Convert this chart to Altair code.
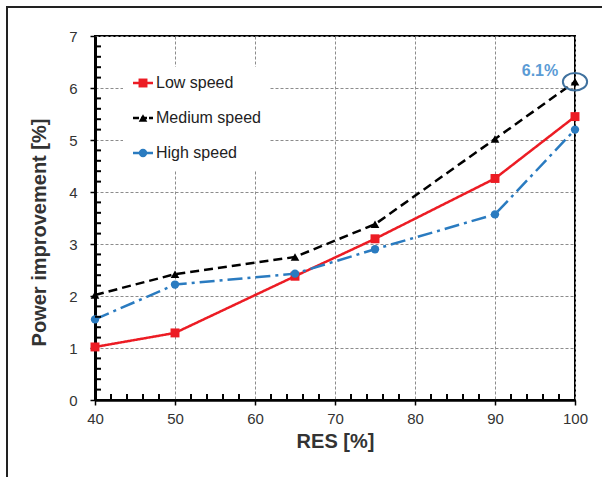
import altair as alt
import pandas as pd

# ---- data ----
res = [40, 50, 65, 75, 90, 100]
low = [1.02, 1.29, 2.38, 3.10, 4.26, 5.45]
medium = [2.02, 2.42, 2.75, 3.38, 5.02, 6.12]
high = [1.55, 2.22, 2.43, 2.90, 3.57, 5.20]
series_names = ["Low speed", "Medium speed", "High speed"]
series_vals = [low, medium, high]
series_colors = ["#ec1c24", "#000000", "#2a7bc0"]
series_shapes = ["square", "triangle-up", "circle"]
series_sizes = [80, 75, 70]
series_dash = [[1, 0], [9, 5], [15, 5, 3, 5]]

x_ticks = [40, 50, 60, 70, 80, 90, 100]
y_ticks = [0, 1, 2, 3, 4, 5, 6, 7]
minor_x = [v for v in range(42, 100, 2) if v % 10 != 0]
minor_y = [round(v * 0.2, 1) for v in range(1, 35) if v % 5 != 0]

annot_x = [100]
annot_y = [6.12]
annot_text = ["6.1%"]

W, H = 480, 364
FONT = "Liberation Sans"
TICK_PX = 6

x_axis = alt.Axis(
    values=x_ticks, title="RES [%]", grid=True, gridDash=[3, 2], gridColor="#8c8c8c",
    gridWidth=1, domainColor="black", domainWidth=2.5, tickColor="black", tickSize=5,
    tickWidth=1.5, labelFont=FONT, labelFontSize=15, labelColor="#333333", labelPadding=6,
    labelFlush=False,
    titleFont=FONT, titleFontSize=20, titleFontWeight="bold", titleColor="#333333",
    titleY=31, titleBaseline="top",
)
y_axis = alt.Axis(
    values=y_ticks, title="Power improvement [%]", grid=True, gridDash=[3, 2],
    gridColor="#8c8c8c", gridWidth=1, domainColor="black", domainWidth=3,
    tickColor="black", tickSize=5, tickWidth=1.5, labelFont=FONT, labelFontSize=15,
    labelColor="#333333", labelPadding=13, labelFlush=False, titleFont=FONT, titleFontSize=20,
    titleFontWeight="bold", titleColor="#333333", titleX=-46, titleY=196,
)
x_scale = alt.Scale(domain=[40, 100], nice=False, zero=False)
y_scale = alt.Scale(domain=[0, 7], nice=False)


def X(field):
    return alt.X(f"{field}:Q", scale=x_scale, axis=x_axis)


def Y(field):
    return alt.Y(f"{field}:Q", scale=y_scale, axis=y_axis)


layers = []

# outer frame of the figure
frame = alt.Chart(pd.DataFrame({"a": [0]})).mark_rect(
    fill="white", fillOpacity=0, stroke="#222222", strokeWidth=2, clip=False
).encode(x=alt.value(-88), x2=alt.value(700), y=alt.value(-29), y2=alt.value(600))
layers.append(frame)

# minor ticks (inward), tick length expressed in data units
mx_df = pd.DataFrame({"mx": minor_x, "y0": [0.0] * len(minor_x),
                      "y1": [TICK_PX * 7 / H] * len(minor_x)})
mx = alt.Chart(mx_df).mark_rule(color="black", strokeWidth=2).encode(
    x=X("mx"), y=Y("y0"), y2="y1:Q"
)
my_df = pd.DataFrame({"my": minor_y, "x0": [40.0] * len(minor_y),
                      "x1": [40 + TICK_PX * 60 / W] * len(minor_y)})
my = alt.Chart(my_df).mark_rule(color="black", strokeWidth=2).encode(
    y=Y("my"), x=X("x0"), x2="x1:Q"
)

# data series
for name, vals, col, shp, sz, dash in zip(series_names, series_vals, series_colors,
                                          series_shapes, series_sizes, series_dash):
    df = pd.DataFrame({"res": res, "val": vals})
    base = alt.Chart(df).encode(x=X("res"), y=Y("val"))
    layers.append(base.mark_line(color=col, strokeWidth=2.5, strokeDash=dash))
    layers.append(base.mark_point(shape=shp, filled=True, color=col, size=sz, opacity=1))

# annotation
adf = pd.DataFrame({"ax": annot_x, "ay": annot_y, "t": annot_text})
ab = alt.Chart(adf).encode(x=X("ax"), y=Y("ay"))
layers.append(ab.mark_point(
    shape="M -1.4 0 A 1.4 1 0 1 1 1.4 0 A 1.4 1 0 1 1 -1.4 0 Z",
    size=300, filled=False, stroke="#3f719e", strokeWidth=2, opacity=1))
layers.append(ab.mark_text(text=annot_text[0], font=FONT, fontSize=16, fontWeight="bold",
                           color="#5b9bd5", dx=-35, dy=-11))

# legend
layers.append(alt.Chart(pd.DataFrame({"a": [0]})).mark_rect(fill="white").encode(
    x=alt.value(28), x2=alt.value(175), y=alt.value(31), y2=alt.value(134)))
leg_y = [47, 82, 117]
for name, col, shp, sz, dash, yy in zip(series_names, series_colors, series_shapes,
                                        series_sizes, series_dash, leg_y):
    ld = alt.Chart(pd.DataFrame({"name": [name]}))
    d = [6, 2] if len(dash) == 2 and dash != [1, 0] else [1, 0]
    layers.append(ld.mark_rule(color=col, strokeWidth=2.5, strokeDash=d).encode(
        x=alt.value(38), x2=alt.value(58), y=alt.value(yy)))
    layers.append(ld.mark_point(shape=shp, filled=True, color=col, size=sz, opacity=1).encode(
        x=alt.value(48), y=alt.value(yy)))
    layers.append(ld.mark_text(align="left", baseline="middle", font=FONT, fontSize=16,
                               color="#222222").encode(
        text="name:N", x=alt.value(61), y=alt.value(yy)))

layers += [mx, my]

chart = alt.layer(*layers).properties(
    width=W, height=H,
    autosize=alt.AutoSizeParams(type="none"),
    padding={"left": 95, "top": 36, "right": 27, "bottom": 77},
    background="white",
).configure_view(stroke="black", strokeWidth=2)

chart.save("out.html", embed_options={"renderer": "svg", "actions": False})
